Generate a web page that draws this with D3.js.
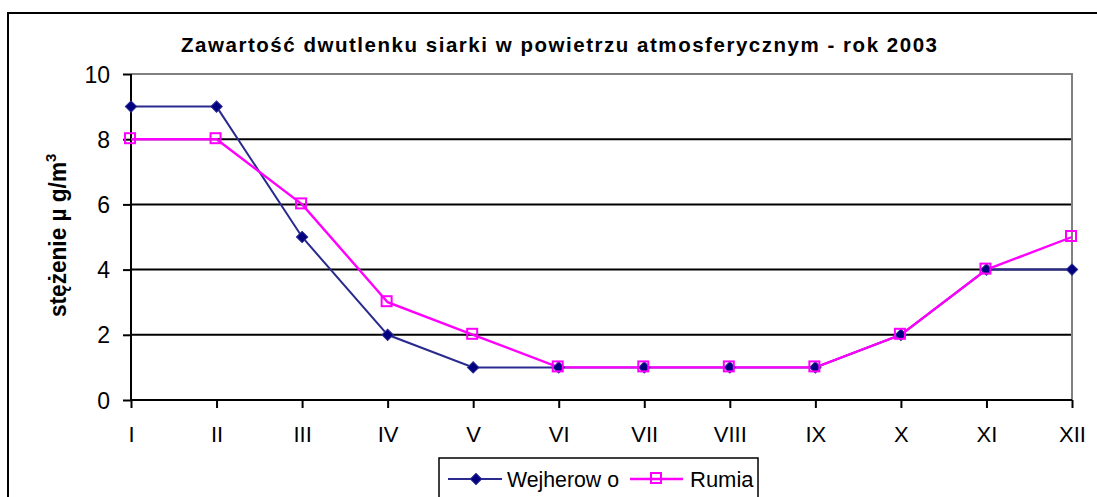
<!DOCTYPE html>
<html><head><meta charset="utf-8">
<script src="https://cdn.jsdelivr.net/npm/d3@7"></script>
<style>
html,body{margin:0;padding:0;background:#fff;}
svg{display:block;font-family:"Liberation Sans",Arial,sans-serif;}
</style></head>
<body>
<svg id="c" width="1097" height="497"></svg>
<script>
const categories = ["I","II","III","IV","V","VI","VII","VIII","IX","X","XI","XII"];
const wejherowo = [9,9,5,2,1,1,1,1,1,2,4,4];
const rumia = [8,8,6,3,2,1,1,1,1,2,4,5];
const yTicks = [0,2,4,6,8,10];
const seriesNames = ["Wejherow o","Rumia"];
const titleText = "Zawartość dwutlenku siarki w powietrzu atmosferycznym - rok 2003";

const svg = d3.select("#c");
const L = 131, R = 1072, T = 74, B = 400;

// outer chart border
svg.append("rect").attr("x",8).attr("y",13).attr("width",1120).attr("height",520)
  .attr("fill","#fff").attr("stroke","#000").attr("stroke-width",2);

const x = d3.scalePoint().domain(categories).range([L,R]);
const y = d3.scaleLinear().domain([0,10]).range([B,T]);

// gridlines
svg.append("g").selectAll("line").data(yTicks.filter(d=>d>0 && d<10)).join("line")
  .attr("x1",L).attr("x2",R).attr("y1",d=>y(d)).attr("y2",d=>y(d))
  .attr("stroke","#000").attr("stroke-width",2);
// plot area border (gray top/right)
svg.append("path").attr("d",`M${L},${y(10)}H${R}V${B}`).attr("fill","none")
  .attr("stroke","#808080").attr("stroke-width",2);

// axes
const yAxis = svg.append("g").attr("transform",`translate(${L},0)`)
  .call(d3.axisLeft(y).tickValues(yTicks).tickSize(8).tickPadding(13));
const xAxis = svg.append("g").attr("transform",`translate(0,${B})`)
  .call(d3.axisBottom(x).tickSize(8).tickPadding(18));
[yAxis,xAxis].forEach(g=>{
  g.select(".domain").attr("stroke","#000").attr("stroke-width",2);
  g.selectAll(".tick line").attr("stroke","#000").attr("stroke-width",2);
  g.selectAll(".tick text").attr("fill","#000")
    .style("font-family","'Liberation Sans',Arial,sans-serif");
});
yAxis.selectAll(".tick text").style("font-size","23px").attr("dy","0.35em");
xAxis.selectAll(".tick text").style("font-size","22px");
yAxis.select(".domain").attr("d",`M0,${B}V${T}`);
xAxis.select(".domain").attr("d",`M${L},0H${R}`);

// lines
const line = d3.line().x((d,i)=>x(categories[i])).y(d=>y(d));
svg.append("path").datum(wejherowo).attr("d",line).attr("fill","none")
  .attr("stroke","#2a2a8f").attr("stroke-width",2);
svg.append("path").datum(rumia).attr("d",line).attr("fill","none")
  .attr("stroke","#ff00ff").attr("stroke-width",2.4);

function drawDiamond(g,cx,cy){
  g.append("path").attr("d",d3.symbol().type(d3.symbolSquare).size(64)())
    .attr("transform",`translate(${cx},${cy}) rotate(45)`)
    .attr("fill","#000080").attr("stroke","#2a2a8f").attr("stroke-width",1);
}
function drawSquare(g,cx,cy){
  g.append("rect").attr("x",cx-6).attr("y",cy-6).attr("width",10).attr("height",10)
    .attr("fill","none").attr("stroke","#ff00ff").attr("stroke-width",2);
}
const gm = svg.append("g");
wejherowo.forEach((v,i)=>drawDiamond(gm,x(categories[i]),y(v)));
const gr = svg.append("g");
rumia.forEach((v,i)=>drawSquare(gr,x(categories[i]),y(v)));

// title
svg.append("text").attr("x",181).attr("y",52).attr("textLength",756).attr("lengthAdjust","spacing")
  .style("font-size","20.5px").style("font-weight","bold").text(titleText);

// y label
const yl = svg.append("text").attr("transform","translate(66,317) rotate(-90)")
  .style("font-size","23px").style("font-weight","bold");
yl.append("tspan").attr("textLength",155).attr("lengthAdjust","spacingAndGlyphs").text("stężenie µ g/m");
yl.append("tspan").attr("dy",-10).style("font-size","15px").text("3");

// legend
const lg = svg.append("g");
lg.append("rect").attr("x",439).attr("y",458).attr("width",319).attr("height",60)
  .attr("fill","#fff").attr("stroke","#000").attr("stroke-width",1.5);
const ly = 479;
lg.append("line").attr("x1",448).attr("x2",502).attr("y1",ly).attr("y2",ly)
  .attr("stroke","#2a2a8f").attr("stroke-width",2);
drawDiamond(lg,476,ly);
lg.append("text").attr("x",507).attr("y",ly+8).style("font-size","22px")
  .attr("textLength",112).attr("lengthAdjust","spacingAndGlyphs").text(seriesNames[0]);
lg.append("line").attr("x1",630).attr("x2",683).attr("y1",ly).attr("y2",ly)
  .attr("stroke","#ff00ff").attr("stroke-width",2.4);
drawSquare(lg,657,ly);
lg.append("text").attr("x",690).attr("y",ly+8).style("font-size","22px").text(seriesNames[1]);
</script>
</body></html>
